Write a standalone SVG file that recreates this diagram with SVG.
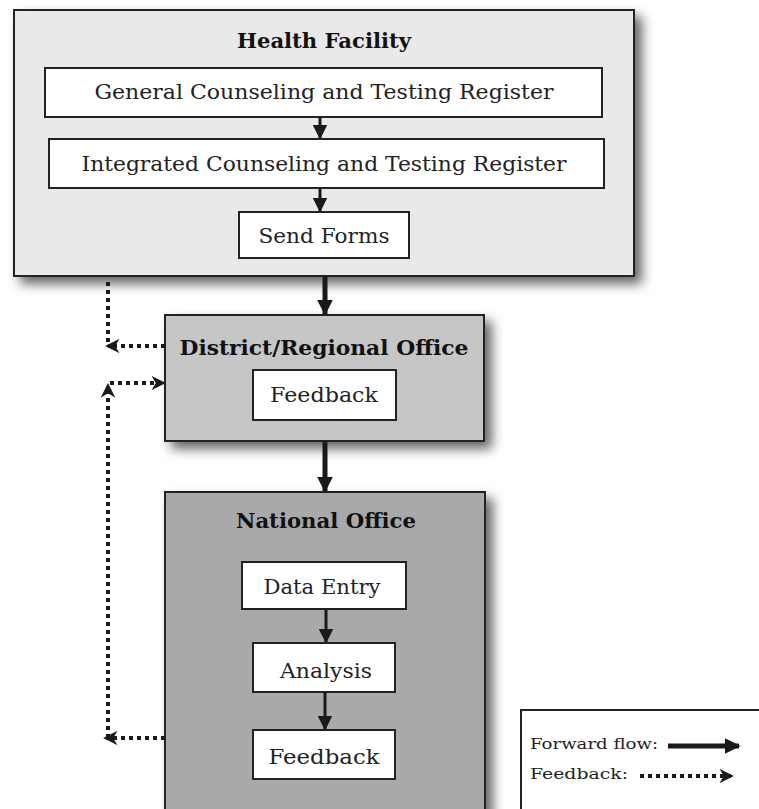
<svg xmlns="http://www.w3.org/2000/svg" width="759" height="809" viewBox="0 0 759 809">
<defs>
<filter id="sh" x="-10%" y="-10%" width="130%" height="130%">
<feDropShadow dx="7" dy="7" stdDeviation="6" flood-color="#000" flood-opacity="0.6"/>
</filter>
<marker id="ah" viewBox="0 0 10 10" refX="9" refY="5" markerWidth="3.2" markerHeight="3.2" orient="auto" markerUnits="strokeWidth">
<path d="M0,0 L10,5 L0,10 z" fill="#1a1a1a"/>
</marker>
<marker id="ahs" viewBox="0 0 10 10" refX="9" refY="5" markerWidth="5" markerHeight="5" orient="auto" markerUnits="strokeWidth">
<path d="M0,0 L10,5 L0,10 z" fill="#1a1a1a"/>
</marker>
<marker id="ahd" viewBox="0 0 10 10" refX="8" refY="5" markerWidth="3.6" markerHeight="3.6" orient="auto" markerUnits="strokeWidth">
<path d="M0,0 L10,5 L0,10 L3,5 z" fill="#1a1a1a"/>
</marker>
</defs>
<style>
.outer{stroke:#222;stroke-width:2}
.inner{fill:#fff;stroke:#222;stroke-width:2}
.t{font-family:"DejaVu Serif","Liberation Serif",serif;font-size:20px;fill:#222;text-anchor:middle}
.tb{font-family:"DejaVu Serif","Liberation Serif",serif;font-size:20px;font-weight:bold;fill:#111;text-anchor:middle}
.lg{font-family:"DejaVu Serif","Liberation Serif",serif;font-size:15px;fill:#222}
.fw{stroke:#1a1a1a;stroke-width:5;fill:none}
.fws{stroke:#1a1a1a;stroke-width:3;fill:none}
.fb{stroke:#1a1a1a;stroke-width:4;fill:none;stroke-dasharray:4 4}
</style>
<rect width="759" height="809" fill="#fff"/>

<g id="health-facility">
<rect x="14" y="10" width="620" height="266" fill="#e9e9e9" class="outer" filter="url(#sh)"/>
<text x="324" y="48" class="tb" textLength="174" lengthAdjust="spacingAndGlyphs">Health Facility</text>
</g>
<g id="general-register">
<rect x="45" y="68" width="557" height="49" class="inner"/>
<text x="324" y="99" class="t" textLength="459" lengthAdjust="spacingAndGlyphs">General Counseling and Testing Register</text>
</g>
<g id="integrated-register">
<rect x="49" y="139" width="555" height="49" class="inner"/>
<text x="324" y="171" class="t" textLength="485" lengthAdjust="spacingAndGlyphs">Integrated Counseling and Testing Register</text>
</g>
<g id="send-forms">
<rect x="239" y="212" width="170" height="46" class="inner"/>
<text x="324" y="243" class="t" textLength="131" lengthAdjust="spacingAndGlyphs">Send Forms</text>
</g>

<g id="district-office">
<rect x="165" y="315" width="319" height="126" fill="#c6c6c6" class="outer" filter="url(#sh)"/>
<text x="324" y="355" class="tb" textLength="289" lengthAdjust="spacingAndGlyphs">District/Regional Office</text>
</g>
<g id="district-feedback">
<rect x="253" y="370" width="143" height="50" class="inner"/>
<text x="324" y="402" class="t" textLength="108" lengthAdjust="spacingAndGlyphs">Feedback</text>
</g>

<g id="national-office">
<rect x="165" y="492" width="320" height="330" fill="#a9a9a9" class="outer" filter="url(#sh)"/>
<text x="326" y="528" class="tb" textLength="180" lengthAdjust="spacingAndGlyphs">National Office</text>
</g>
<g id="data-entry">
<rect x="242" y="562" width="164" height="47" class="inner"/>
<text x="322" y="594" class="t" textLength="117" lengthAdjust="spacingAndGlyphs">Data Entry</text>
</g>
<g id="analysis">
<rect x="253" y="643" width="142" height="49" class="inner"/>
<text x="326" y="678" class="t" textLength="92" lengthAdjust="spacingAndGlyphs">Analysis</text>
</g>
<g id="national-feedback">
<rect x="253" y="730" width="142" height="49" class="inner"/>
<text x="324" y="764" class="t" textLength="111" lengthAdjust="spacingAndGlyphs">Feedback</text>
</g>

<g id="legend">
<rect x="521" y="710" width="250" height="110" fill="#fff" stroke="#222" stroke-width="2"/>
<text x="530" y="749" class="lg" textLength="128" lengthAdjust="spacingAndGlyphs">Forward flow:</text>
<text x="530" y="779" class="lg" textLength="98" lengthAdjust="spacingAndGlyphs">Feedback:</text>
<line x1="668" y1="746" x2="739" y2="746" class="fw" marker-end="url(#ah)"/>
<line x1="640" y1="776" x2="731" y2="776" class="fb" marker-end="url(#ahd)"/>
</g>

<g id="connectors">
<line x1="320" y1="117" x2="320" y2="138" class="fws" marker-end="url(#ahs)"/>
<line x1="320" y1="188" x2="320" y2="211" class="fws" marker-end="url(#ahs)"/>
<line x1="325" y1="276" x2="325" y2="314" class="fw" marker-end="url(#ah)"/>
<line x1="325" y1="441" x2="325" y2="491" class="fw" marker-end="url(#ah)"/>
<line x1="326" y1="609" x2="326" y2="642" class="fws" marker-end="url(#ahs)"/>
<line x1="325" y1="692" x2="325" y2="729" class="fws" marker-end="url(#ahs)"/>
<line x1="108" y1="282" x2="108" y2="344" class="fb"/>
<line x1="165" y1="346" x2="108" y2="346" class="fb" marker-end="url(#ahd)"/>
<line x1="110" y1="383" x2="163" y2="383" class="fb" marker-end="url(#ahd)"/>
<line x1="108" y1="738" x2="108" y2="386" class="fb" marker-end="url(#ahd)"/>
<line x1="165" y1="738" x2="106" y2="738" class="fb" marker-end="url(#ahd)"/>
</g>
</svg>
